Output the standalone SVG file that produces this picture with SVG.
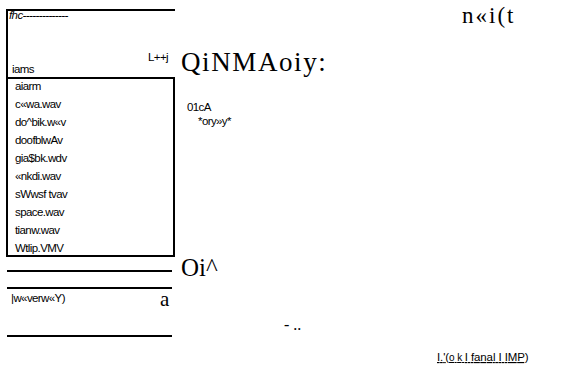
<svg xmlns="http://www.w3.org/2000/svg" width="574" height="373" viewBox="0 0 574 373">
<style>
.ln{stroke:#000;stroke-width:2;fill:none}
.sm{font-family:"Liberation Sans Narrow","Liberation Sans",Arial,sans-serif;font-size:11.5px;fill:#000;letter-spacing:-0.6px}
.sr{font-family:"Liberation Serif","Times New Roman",serif;fill:#000}
</style>
<rect width="574" height="373" fill="#fff"/>
<g id="connectors">
<polyline class="ln" points="175,10 7,10 7,78"/>
<line class="ln" x1="7" y1="271" x2="172" y2="271"/>
<line class="ln" x1="7" y1="288" x2="172" y2="288"/>
<line class="ln" x1="7" y1="336" x2="172" y2="336"/>
</g>
<g id="header">
<text class="sm" x="9" y="19" font-style="italic" font-size="9">fhc--------------</text>
<text class="sm" x="148" y="61" font-size="10">L++j</text>
<text class="sm" x="12" y="73">iams</text>
</g>
<g id="list">
<rect class="ln" x="7" y="78" width="167" height="178"/>
<text class="sm" x="15" y="90">aiarm</text>
<text class="sm" x="15" y="108">c«wa.wav</text>
<text class="sm" x="15" y="126">do^bik.w«v</text>
<text class="sm" x="15" y="144">doofblwAv</text>
<text class="sm" x="15" y="162">gia$bk.wdv</text>
<text class="sm" x="15" y="180">«nkdi.wav</text>
<text class="sm" x="15" y="198">sWwsf tvav</text>
<text class="sm" x="15" y="216">space.wav</text>
<text class="sm" x="15" y="234">tianw.wav</text>
<text class="sm" x="15" y="252">Wtlip.VMV</text>
</g>
<g id="title">
<text class="sr" x="462" y="23" font-size="23" letter-spacing="2">n«i(t</text>
<text class="sr" x="181" y="71" font-size="27" letter-spacing="1.6">QiNMAoiy:</text>
</g>
<g id="info">
<text class="sm" x="187" y="111">01cA</text>
<text class="sm" x="198" y="125" font-size="13" letter-spacing="1.5">*ory»y*</text>
</g>
<g id="bottom">
<text class="sr" x="181" y="276" font-size="25">Oi^</text>
<text class="sm" x="11" y="302" font-size="10.5">|w«verw«Y)</text>
<text class="sr" x="160" y="306" font-size="21">a</text>
<text class="sr" x="284" y="330" font-size="16">- ..</text>
<text class="sm" x="437" y="361" font-size="16" letter-spacing="0" textLength="91" lengthAdjust="spacing" text-decoration="underline">I.'(<tspan font-size="10">o k </tspan>I fanal I IMP)</text>
</g>
</svg>
